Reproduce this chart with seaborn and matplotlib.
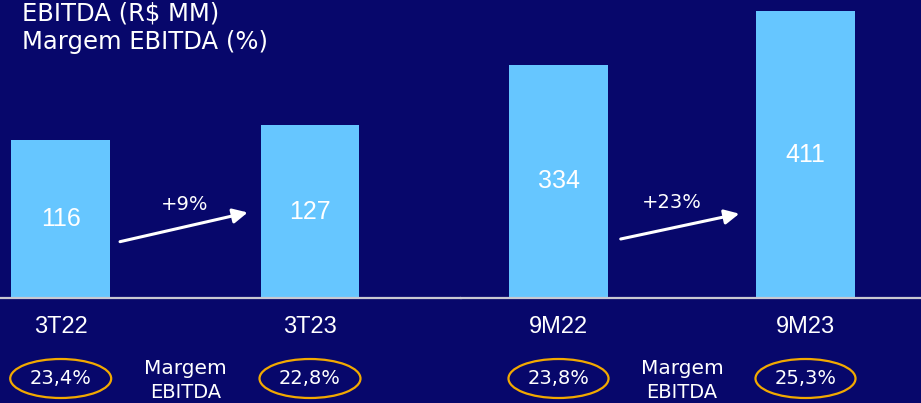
import matplotlib
matplotlib.use("Agg")
import matplotlib.pyplot as plt
from matplotlib.patches import Ellipse
import seaborn as sns
import pandas as pd

# ---- data ----
left_cats = ["3T22", "3T23"]
left_vals = [116, 127]
left_margins = ["23,4%", "22,8%"]
left_growth = "+9%"

right_cats = ["9M22", "9M23"]
right_vals = [334, 411]
right_margins = ["23,8%", "25,3%"]
right_growth = "+23%"

title_lines = ["EBITDA (R$ MM)", "Margem EBITDA (%)"]
margin_label = ["Margem", "EBITDA"]

BG = "#07076B"
BAR = "#66C6FF"
ORANGE = "#F2A900"
LINE = "#C8C8D2"

sns.set_theme(style="white")
plt.rcParams["font.family"] = ["DejaVu Sans"]

fig = plt.figure(figsize=(9.21, 4.03), dpi=100, facecolor=BG)
W, H = 921, 403
base_y = 298  # px from top
ax_bottom = (H - base_y) / H
ax_h = base_y / H

def frac(py):
    return (base_y - py) / base_y

def make_panel(rect, cats, vals, ylim_max, xlim, margins, growth, arrow, grow_pos):
    ax = fig.add_axes(rect)
    ax.set_facecolor(BG)
    df = pd.DataFrame({"cat": cats, "val": vals})
    sns.barplot(data=df, x="cat", y="val", ax=ax, color=BAR, width=0.397,
                saturation=1, edgecolor="none")
    ax.set_xlim(*xlim)
    ax.set_ylim(0, ylim_max)
    ax.set_xlabel("")
    ax.set_ylabel("")
    ax.set_yticks([])
    for s in ["top", "left", "right"]:
        ax.spines[s].set_visible(False)
    ax.spines["bottom"].set_color(LINE)
    ax.spines["bottom"].set_linewidth(1.6)
    ax.tick_params(axis="x", length=0, pad=13, colors="white")
    for lbl in ax.get_xticklabels():
        lbl.set_fontfamily("Liberation Sans")
        lbl.set_fontsize(17)
        lbl.set_color("white")
    # values inside bars
    for i, v in enumerate(vals):
        ax.text(i, v / 2, str(v), ha="center", va="center", color="white",
                fontsize=18, family="Liberation Sans")
    # margin ellipses
    tr = ax.get_xaxis_transform()
    for i, m in enumerate(margins):
        e = Ellipse((i, frac(378.5)), width=0.405, height=39 / base_y, transform=tr,
                    facecolor="none", edgecolor=ORANGE, lw=1.6, clip_on=False)
        ax.add_patch(e)
        ax.text(i, frac(379), m, transform=tr, ha="center", va="center",
                color="white", fontsize=14, clip_on=False)
    ax.text(0.5, frac(368), margin_label[0], transform=tr, ha="center", va="center",
            color="white", fontsize=14.5, clip_on=False)
    ax.text(0.5, frac(402), margin_label[1], transform=tr, ha="center", va="bottom",
            color="white", fontsize=14, clip_on=False)
    # growth arrow
    (x0, y0), (x1, y1) = arrow
    ax.annotate("", xy=(x1, y1), xytext=(x0, y0),
                xycoords=("data", "axes fraction"),
                textcoords=("data", "axes fraction"),
                arrowprops=dict(arrowstyle="-|>", color="white", lw=2.2,
                                mutation_scale=22, shrinkA=0, shrinkB=0))
    ax.text(grow_pos[0], grow_pos[1], growth, transform=tr, ha="center",
            va="center", color="white", fontsize=14)
    return ax

# left panel: bar centres at px 60.7 and 310 (spacing 249.3)
sp_l = 249.3
make_panel([0, ax_bottom, 460.5 / W, ax_h], left_cats, left_vals,
           base_y / 1.362,
           (-60.7 / sp_l, (460.5 - 60.7) / sp_l),
           left_margins, left_growth,
           ((0.238, 0.189), (0.750, 0.287)),
           (0.498, frac(205)))

# right panel: bar centres at px 558.5 and 805.5 (spacing 247)
sp_r = 247.0
make_panel([460.5 / W, ax_bottom, (W - 460.5) / W, ax_h], right_cats, right_vals,
           base_y / 0.698,
           (-(558.5 - 460.5) / sp_r, (W - 558.5) / sp_r),
           right_margins, right_growth,
           ((0.252, 0.198), (0.732, 0.283)),
           (0.458, frac(203)))

fig.text(22 / W, 1 - 14 / H, title_lines[0], ha="left", va="center",
         color="white", fontsize=17.5)
fig.text(22 / W, 1 - 42 / H, title_lines[1], ha="left", va="center",
         color="white", fontsize=17.5)

fig.savefig("out.png", dpi=100, facecolor=BG)
